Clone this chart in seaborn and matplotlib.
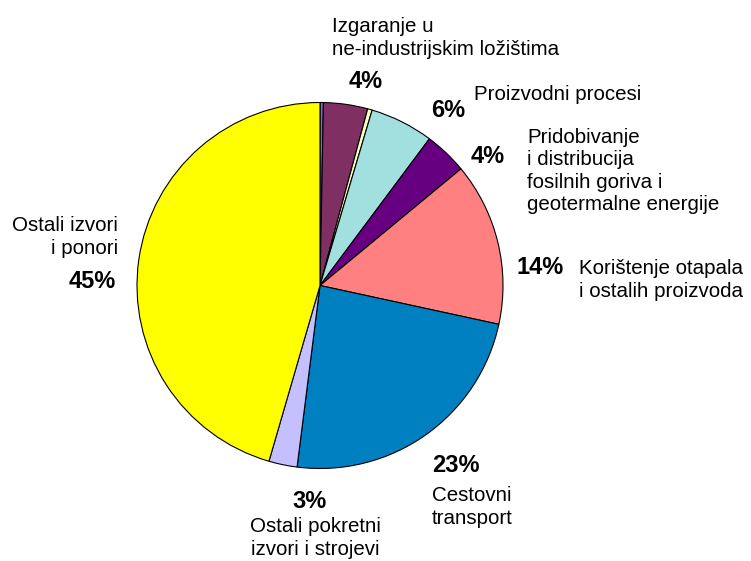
import matplotlib
matplotlib.use("Agg")
import matplotlib.pyplot as plt
import seaborn as sns

# slices clockwise from 12 o'clock (percent)
sources = ['Ostalo (mali udio)', 'Izgaranje u ne-industrijskim ložištima', 'Ostalo (mali udio 2)',
           'Proizvodni procesi', 'Pridobivanje i distribucija fosilnih goriva i geotermalne energije',
           'Korištenje otapala i ostalih proizvoda', 'Cestovni transport',
           'Ostali pokretni izvori i strojevi', 'Ostali izvori i ponori']
shares = [0.3, 3.9, 0.4, 5.6, 3.8, 14.4, 23.6, 2.5, 45.5]
colors = ['#6B6BF0', '#7F2F62', '#FFFFC0', '#A2E0E0', '#660080',
          '#FF8080', '#0080C0', '#C4C0FF', '#FFFF00']

pct_labels = ['4%', '6%', '4%', '14%', '23%', '3%', '45%']
name_labels = ['Izgaranje u\nne-industrijskim ložištima', 'Proizvodni procesi',
               'Pridobivanje\ni distribucija\nfosilnih goriva i\ngeotermalne energije',
               'Korištenje otapala\ni ostalih proizvoda', 'Cestovni\ntransport',
               'Ostali pokretni\nizvori i strojevi', 'Ostali izvori\ni ponori']

# label placement in image pixels (x, y from top, horizontal alignment)
pct_pos = [(366, 81, 'center'), (448, 110, 'center'), (488, 156, 'center'),
           (540, 267, 'center'), (432, 466, 'left'), (310, 501, 'center'),
           (116, 281, 'right')]
name_pos = [(332, 38, 'left'), (474, 94, 'left'), (527, 171, 'left'),
            (579, 280, 'left'), (432, 507, 'left'), (315, 538, 'center'),
            (118, 237, 'right')]

W, H = 751, 561

sns.set_style("white")
plt.rcParams['font.family'] = ['Liberation Sans', 'DejaVu Sans']

fig = plt.figure(figsize=(W / 100, H / 100), dpi=100)
ax = fig.add_axes([0, 0, 1, 1])
ax.pie(shares, colors=colors, startangle=90, counterclock=False,
       center=(320, H - 285.5), radius=183,
       wedgeprops=dict(edgecolor='black', linewidth=0.8))
ax.set_xlim(0, W)
ax.set_ylim(0, H)
ax.set_aspect('equal')
ax.axis('off')

for txt, (x, y, ha) in zip(pct_labels, pct_pos):
    ax.text(x, H - y, txt, ha=ha, va='center', fontsize=17, fontweight='bold',
            color='black')
for txt, (x, y, ha) in zip(name_labels, name_pos):
    ax.text(x, H - y, txt, ha=ha, va='center', fontsize=14.8, color='black',
            multialignment=ha, linespacing=1.22)

fig.savefig('out.png', dpi=100)
